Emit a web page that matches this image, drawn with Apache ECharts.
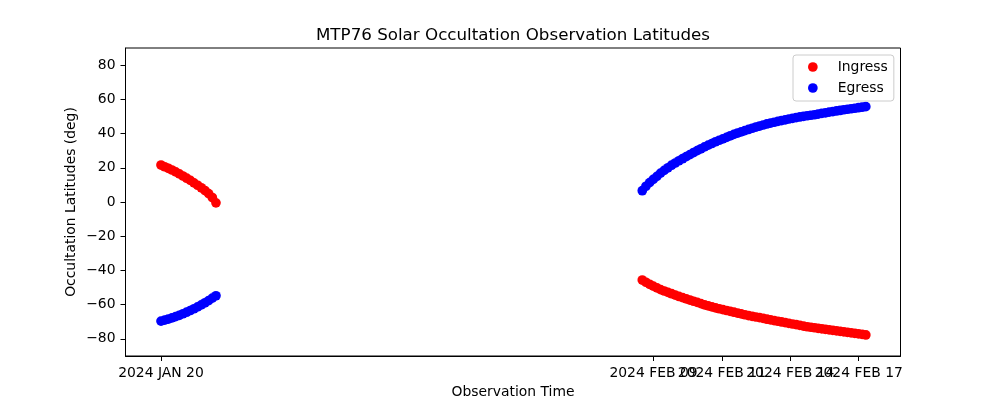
<!DOCTYPE html>
<html>
<head>
<meta charset="utf-8">
<script src="https://cdn.jsdelivr.net/npm/echarts@6/dist/echarts.min.js"></script>
<style>
html,body{margin:0;padding:0;background:#fff;}
#chart{width:1000px;height:400px;}
</style>
</head>
<body>
<div id="chart"></div>
<script>
// Time in days since 2024-01-20 00:00
const earlyTimes = [0.00, 0.15, 0.30, 0.45, 0.60, 0.75, 0.90, 1.05, 1.20, 1.35, 1.50, 1.65, 1.80, 1.95, 2.10, 2.25];
const earlyIngress = [21.6, 20.6, 19.7, 18.7, 17.6, 16.4, 15.2, 13.9, 12.6, 11.2, 9.8, 8.3, 6.7, 4.9, 2.6, -0.5];
const earlyEgress = [-69.6, -69.0, -68.4, -67.7, -67.0, -66.2, -65.3, -64.4, -63.4, -62.4, -61.3, -60.1, -58.9, -57.6, -56.2, -54.8];

const lateTimes = [19.70, 19.85, 20.00, 20.15, 20.30, 20.45, 20.60, 20.75, 20.90, 21.05,
  21.20, 21.35, 21.50, 21.65, 21.80, 21.95, 22.10, 22.25, 22.40, 22.55,
  22.70, 22.85, 23.00, 23.15, 23.30, 23.45, 23.60, 23.75, 23.90, 24.05,
  24.20, 24.35, 24.50, 24.65, 24.80, 24.95, 25.10, 25.25, 25.40, 25.55,
  25.70, 25.85, 26.00, 26.15, 26.30, 26.45, 26.60, 26.75, 26.90, 27.05,
  27.20, 27.35, 27.50, 27.65, 27.80, 27.95, 28.10, 28.25, 28.40, 28.55,
  28.70, 28.85];
const lateIngress = [-45.6, -46.9, -48.1, -49.2, -50.2, -51.2, -52.0, -52.8, -53.6, -54.4,
  -55.2, -55.9, -56.6, -57.3, -58.0, -58.7, -59.4, -60.1, -60.7, -61.3,
  -61.9, -62.4, -62.9, -63.4, -63.9, -64.4, -64.9, -65.4, -65.9, -66.4,
  -66.8, -67.2, -67.6, -68.0, -68.5, -68.9, -69.3, -69.7, -70.1, -70.5,
  -70.9, -71.3, -71.7, -72.1, -72.5, -72.9, -73.2, -73.5, -73.8, -74.1,
  -74.4, -74.7, -75.0, -75.3, -75.6, -75.9, -76.2, -76.5, -76.8, -77.1,
  -77.4, -77.7];
const lateEgress = [6.6, 9.2, 11.3, 13.2, 15.0, 16.9, 18.5, 20.0, 21.5, 22.8,
  24.1, 25.3, 26.5, 27.7, 28.9, 30.0, 31.1, 32.2, 33.2, 34.2,
  35.2, 36.1, 36.9, 37.8, 38.7, 39.5, 40.3, 41.0, 41.7, 42.4,
  43.1, 43.8, 44.4, 45.0, 45.6, 46.1, 46.6, 47.1, 47.6, 48.0,
  48.5, 48.9, 49.3, 49.7, 50.0, 50.4, 50.7, 51.0, 51.4, 51.8,
  52.1, 52.5, 52.8, 53.2, 53.5, 53.9, 54.2, 54.5, 54.8, 55.1,
  55.4, 55.7];

const xTickValues = [0, 20.16, 22.96, 25.76, 28.56];
const xTickLabels = ['2024 JAN 20', '2024 FEB 09', '2024 FEB 11', '2024 FEB 14', '2024 FEB 17'];
const yTickValues = [-80, -60, -40, -20, 0, 20, 40, 60, 80];

function pairs(ts, vs) { return ts.map((t, i) => [t, vs[i]]); }
const ingressData = pairs(earlyTimes, earlyIngress).concat(pairs(lateTimes, lateIngress));
const egressData = pairs(earlyTimes, earlyEgress).concat(pairs(lateTimes, lateEgress));

// The tick labels overlap (as in the reference); split them over two
// coincident bottom axes so that none is dropped by overlap handling.
const evenTicks = xTickValues.filter((v, i) => i % 2 === 0);
const oddTicks = xTickValues.filter((v, i) => i % 2 === 1);
function labelFor(v) {
  let best = 0;
  for (let i = 1; i < xTickValues.length; i++) {
    if (Math.abs(xTickValues[i] - v) < Math.abs(xTickValues[best] - v)) best = i;
  }
  return xTickLabels[best];
}

const FONT = 'DejaVu Sans';
const X_MIN = -1.453, X_MAX = 30.27;
const MARK = 9.7;

function makeXAxis(ticks, withLine, withName) {
  return {
    type: 'value',
    position: 'bottom',
    offset: 0,
    min: X_MIN,
    max: X_MAX,
    name: withName ? 'Observation Time' : '',
    nameLocation: 'middle',
    nameGap: 29,
    nameMoveOverlap: false,
    nameTextStyle: {fontFamily: FONT, fontSize: 13.9, color: '#000'},
    axisLine: {show: withLine, onZero: false, lineStyle: {color: '#000', width: 1}},
    axisTick: {show: true, inside: false, length: 5, lineStyle: {color: '#000'}, customValues: ticks},
    axisLabel: {
      show: true, margin: 10, color: '#000', fontFamily: FONT, fontSize: 13.9,
      hideOverlap: false, showMinLabel: true, showMaxLabel: true,
      customValues: ticks,
      formatter: labelFor
    },
    splitLine: {show: false}
  };
}

const chart = echarts.init(document.getElementById('chart'), null, {renderer: 'canvas'});
chart.setOption({
  animation: false,
  backgroundColor: '#ffffff',
  textStyle: {fontFamily: FONT},
  title: {
    text: 'MTP76 Solar Occultation Observation Latitudes',
    left: 513,
    textAlign: 'center',
    top: 27,
    padding: 0,
    textStyle: {fontFamily: FONT, fontSize: 16.7, fontWeight: 'normal', color: '#000'}
  },
  legend: {
    left: 793,
    top: 55,
    orient: 'vertical',
    icon: 'circle',
    itemWidth: MARK,
    itemHeight: MARK,
    itemGap: 5,
    padding: [4, 6, 5, 15],
    backgroundColor: 'rgba(255,255,255,0.8)',
    borderColor: '#cccccc',
    borderWidth: 1,
    borderRadius: 3,
    formatter: name => '{a|' + name + '}',
    textStyle: {
      fontFamily: FONT, fontSize: 13.9, color: '#000', lineHeight: 16,
      rich: {a: {fontFamily: FONT, fontSize: 13.9, color: '#000', padding: [0, 0, 0, 15], lineHeight: 16}}
    },
    data: ['Ingress', 'Egress']
  },
  grid: {
    left: 125.5, right: 99.5, top: 48, bottom: 44,
    containLabel: false,
    outerBoundsMode: 'none',
    show: true, borderColor: '#000', borderWidth: 1, backgroundColor: 'transparent'
  },
  xAxis: [
    makeXAxis(evenTicks, true, true),
    makeXAxis(oddTicks, false, false)
  ],
  yAxis: {
    type: 'value',
    min: -90,
    max: 90,
    name: 'Occultation Latitudes (deg)',
    nameLocation: 'middle',
    nameGap: 47,
    nameMoveOverlap: false,
    nameTextStyle: {fontFamily: FONT, fontSize: 13.9, color: '#000'},
    axisLine: {show: true, onZero: false, lineStyle: {color: '#000', width: 1}},
    axisTick: {show: true, inside: false, length: 5, lineStyle: {color: '#000'}, customValues: yTickValues},
    axisLabel: {
      show: true, margin: 10, color: '#000', fontFamily: FONT, fontSize: 13.9,
      customValues: yTickValues,
      formatter: v => String(v).replace('-', '\u2212')
    },
    splitLine: {show: false}
  },
  series: [
    {
      name: 'Ingress', type: 'scatter', symbol: 'circle', symbolSize: MARK,
      xAxisIndex: 0,
      itemStyle: {color: '#ff0000', opacity: 1},
      data: ingressData
    },
    {
      name: 'Egress', type: 'scatter', symbol: 'circle', symbolSize: MARK,
      xAxisIndex: 0,
      itemStyle: {color: '#0000ff', opacity: 1},
      data: egressData
    }
  ]
});
</script>
</body>
</html>
